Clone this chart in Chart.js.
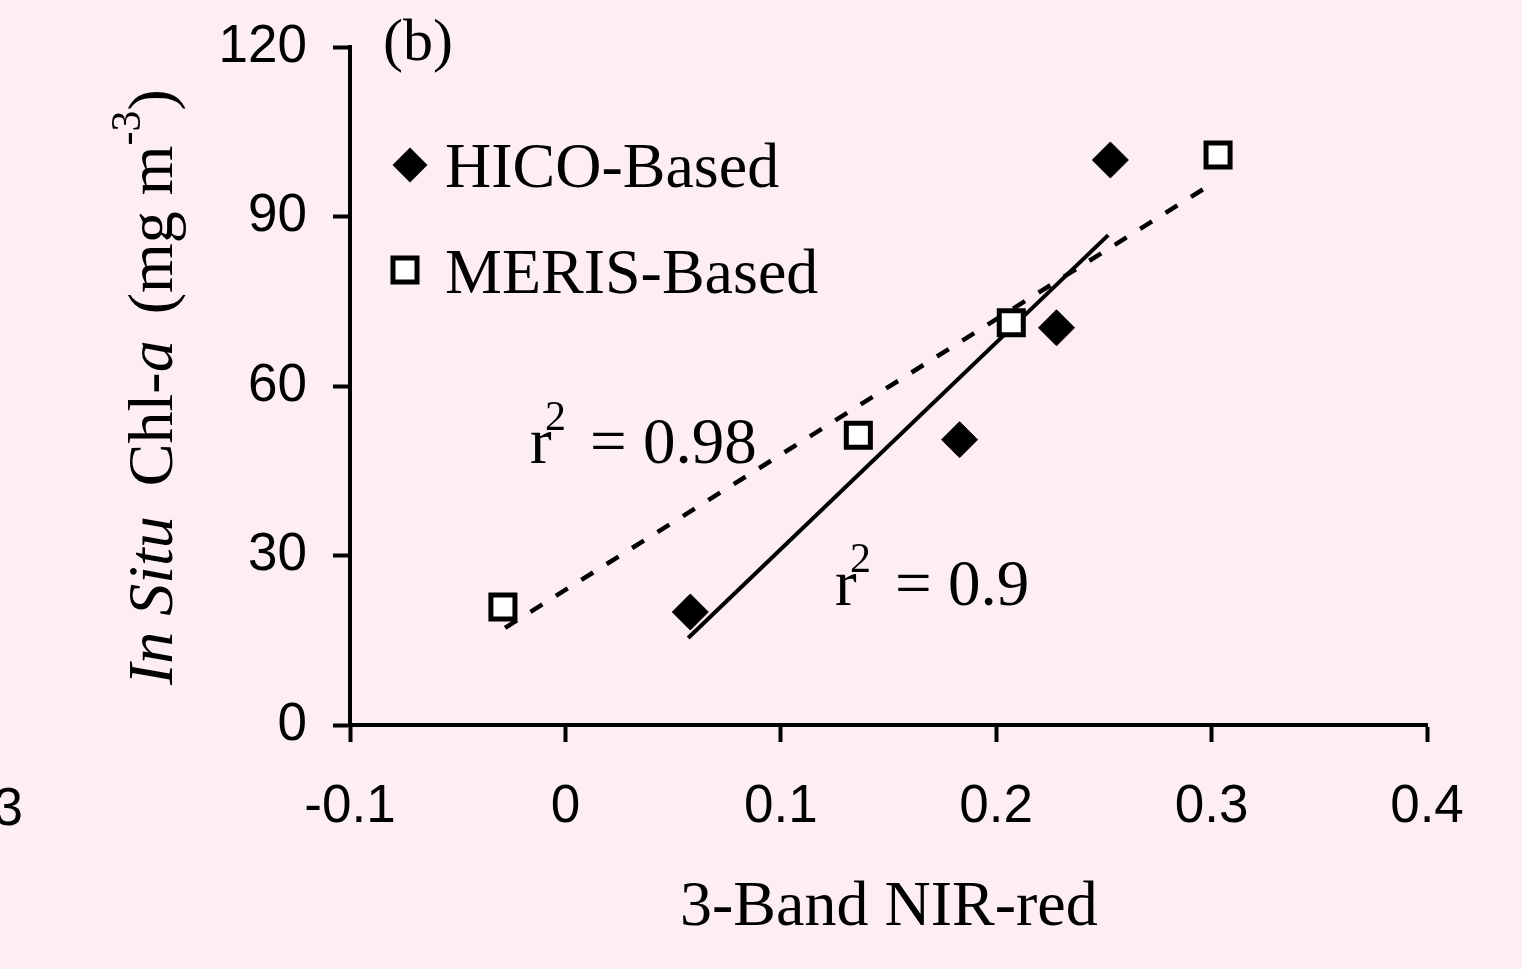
<!DOCTYPE html>
<html><head><meta charset="utf-8">
<script src="https://cdn.jsdelivr.net/npm/chart.js@4/dist/chart.umd.min.js"></script>
<style>html,body{margin:0;padding:0;background:#fdeef4;overflow:hidden}#wrap{width:1522px;height:969px;position:relative}</style>
</head><body><div id="wrap"><canvas id="c" width="1522" height="969"></canvas></div>
<script>
// ---- data ----
const hicoX = [0.058, 0.183, 0.228, 0.253];
const hicoY = [20.0, 50.5, 70.3, 100.0];
const merisX = [-0.029, 0.136, 0.207, 0.303];
const merisY = [20.9, 51.3, 71.2, 100.9];
const hicoFitX = [0.057, 0.252];
const hicoFitY = [15.4, 86.7];
const merisFitX = [-0.028, 0.301];
const merisFitY = [17.2, 96.0];
const xTicks = [-0.1, 0, 0.1, 0.2, 0.3, 0.4];
const xTickLabels = ['-0.1', '0', '0.1', '0.2', '0.3', '0.4'];
const yTicks = [0, 30, 60, 90, 120];
const yTickLabels = ['0', '30', '60', '90', '120'];
const seriesNames = ['HICO-Based', 'MERIS-Based'];
const r2Values = ['0.98', '0.9'];
const panelLabel = '(b)';
const xTitle = '3-Band NIR-red';

const pts = (xs, ys) => xs.map((x, i) => ({x: x, y: ys[i]}));
const SERIF = '"Liberation Serif", "Times New Roman", serif';
const SANS = '"Liberation Sans", Arial, sans-serif';

function diamond(ctx, x, y, r) {
  ctx.beginPath(); ctx.moveTo(x - r, y); ctx.lineTo(x, y - r); ctx.lineTo(x + r, y); ctx.lineTo(x, y + r); ctx.closePath();
  ctx.fillStyle = '#000'; ctx.fill();
}
function square(ctx, x, y, s, lw) {
  ctx.fillStyle = '#fff'; ctx.fillRect(x - s / 2, y - s / 2, s, s);
  ctx.lineWidth = lw; ctx.strokeStyle = '#000'; ctx.strokeRect(x - s / 2, y - s / 2, s, s);
}

const deco = {
  id: 'deco',
  beforeDraw(chart) {
    const ctx = chart.ctx;
    ctx.save(); ctx.fillStyle = '#fdeef4'; ctx.fillRect(0, 0, chart.width, chart.height); ctx.restore();
  },
  afterDraw(chart) {
    const ctx = chart.ctx;
    ctx.save();
    ctx.fillStyle = '#000';
    ctx.textAlign = 'left';
    ctx.textBaseline = 'alphabetic';
    // y title (rotated, mixed styles)
    ctx.save();
    ctx.translate(172, 685);
    ctx.rotate(-Math.PI / 2);
    const segs = [
      {t: 'In Situ', it: true}, {gap: 30}, {t: 'Chl-'}, {t: 'a', it: true}, {gap: 26},
      {t: '(mg'}, {gap: 16}, {t: 'm'}, {t: '-3', sup: true}, {t: ')'}
    ];
    let px = 0;
    for (const s of segs) {
      if (s.gap) { px += s.gap; continue; }
      ctx.font = (s.it ? 'italic ' : '') + (s.sup ? '42px ' : '64px ') + SERIF;
      ctx.fillText(s.t, px, s.sup ? -32 : 0);
      px += ctx.measureText(s.t).width;
    }
    ctx.restore();
    // x title
    ctx.font = '64px ' + SERIF;
    ctx.fillText(xTitle, 680, 925);
    // panel label
    ctx.font = '60px ' + SERIF;
    ctx.fillText(panelLabel, 383, 60);
    // legend
    diamond(ctx, 410, 165, 17.5);
    square(ctx, 405, 270, 24, 5);
    ctx.fillStyle = '#000';
    ctx.font = '64px ' + SERIF;
    ctx.fillText(seriesNames[0], 445, 187);
    ctx.fillText(seriesNames[1], 445, 293);
    // r2 labels
    const r2 = (x, base, val) => {
      ctx.font = '65px ' + SERIF;
      ctx.fillText('r', x, base);
      ctx.font = '42px ' + SERIF;
      ctx.fillText('2', x + 15, base - 33);
      ctx.font = '65px ' + SERIF;
      ctx.fillText('= ' + val, x + 60, base);
    };
    r2(530, 463, r2Values[0]);
    r2(835, 605, r2Values[1]);
    // stray cropped tick label from neighbouring panel
    ctx.font = '53px ' + SANS;
    ctx.textAlign = 'right';
    ctx.fillText('3', 23, 825);
    ctx.restore();
  }
};

new Chart(document.getElementById('c'), {
  type: 'scatter',
  data: {
    datasets: [
      {label: seriesNames[0], data: pts(hicoX, hicoY), pointStyle: 'rectRot', pointRadius: 18,
       backgroundColor: '#000', borderColor: '#000', borderWidth: 1, showLine: false, order: 1},
      {label: seriesNames[1], data: pts(merisX, merisY), pointStyle: 'rect', pointRadius: 17,
       backgroundColor: '#fff', borderColor: '#000', borderWidth: 5, showLine: false, order: 1},
      {label: 'HICO fit', data: pts(hicoFitX, hicoFitY), showLine: true, pointRadius: 0,
       borderColor: '#000', borderWidth: 4, order: 2},
      {label: 'MERIS fit', data: pts(merisFitX, merisFitY), showLine: true, pointRadius: 0,
       borderColor: '#000', borderWidth: 4.5, borderDash: [14, 16], order: 2}
    ]
  },
  options: {
    responsive: false,
    animation: false,
    devicePixelRatio: 1,
    events: [],
    layout: {padding: {top: 47, right: 95, left: 0, bottom: 0}},
    plugins: {legend: {display: false}, tooltip: {enabled: false}},
    scales: {
      x: {
        type: 'linear', min: -0.1, max: 0.4,
        afterBuildTicks: (s) => { s.ticks = xTicks.map(v => ({value: v})); },
        afterFit: (s) => { s.height = 244; s.paddingLeft = 0; s.paddingRight = 0; },
        ticks: {callback: (v, i) => xTickLabels[i], font: {family: SANS, size: 53}, color: '#000',
                padding: 34, maxRotation: 0, autoSkip: false},
        grid: {drawOnChartArea: false, drawTicks: true, tickLength: 17, tickWidth: 4, tickColor: '#000'},
        border: {color: '#000', width: 4}
      },
      y: {
        type: 'linear', min: 0, max: 120,
        afterBuildTicks: (s) => { s.ticks = yTicks.map(v => ({value: v})); },
        afterFit: (s) => { s.width = 350; s.paddingTop = 0; s.paddingBottom = 0; },
        ticks: {callback: (v, i) => yTickLabels[i], font: {family: SANS, size: 53}, color: '#000',
                padding: 26, autoSkip: false},
        grid: {drawOnChartArea: false, drawTicks: true, tickLength: 17, tickWidth: 4, tickColor: '#000'},
        border: {color: '#000', width: 4}
      }
    }
  },
  plugins: [deco]
});
</script></body></html>
